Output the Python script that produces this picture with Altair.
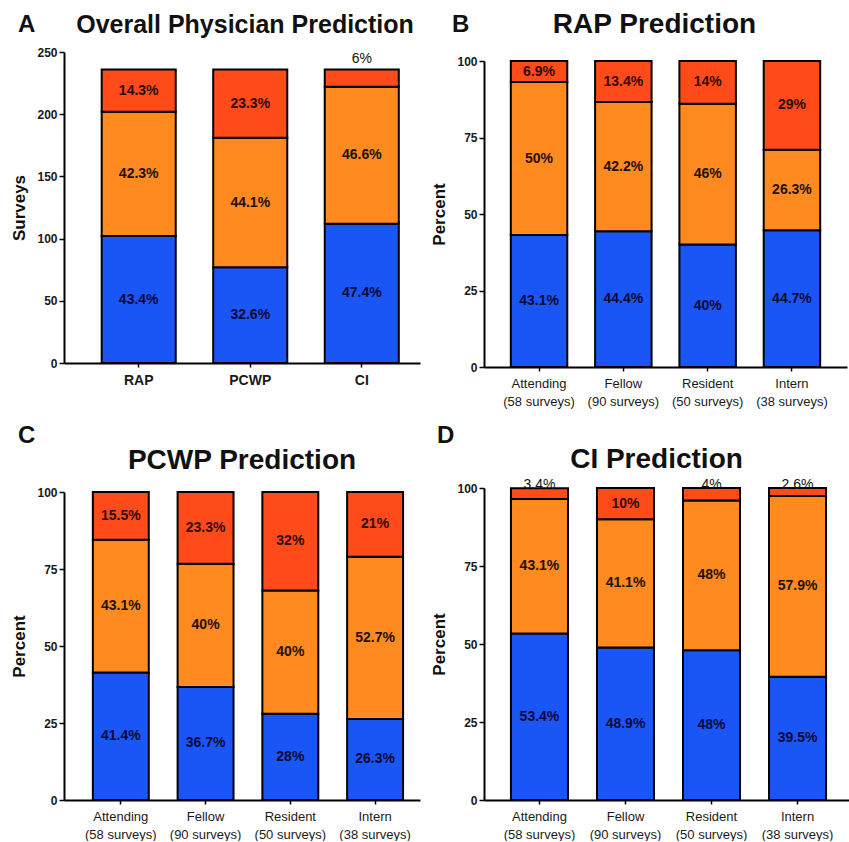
import altair as alt
import pandas as pd

FONT = "Liberation Sans"
BLUE, ORANGE, RED = "#1a55f5", "#ff8a1f", "#ff4b1a"

# ---------------- data ----------------
# Panel A: number of surveys per prediction type
a_cats = ["RAP", "PCWP", "CI"]
a_blue = [102, 77, 112]
a_orange = [100, 104, 110]
a_red = [34, 55, 14]
a_blue_pct = [43.4, 32.6, 47.4]
a_orange_pct = [42.3, 44.1, 46.6]
a_red_pct = [14.3, 23.3, 6]

# Panels B-D: percent by training level
levels = ["Attending", "Fellow", "Resident", "Intern"]
n_surveys = [58, 90, 50, 38]

rap_blue = [43.1, 44.4, 40, 44.7]
rap_orange = [50, 42.2, 46, 26.3]
rap_red = [6.9, 13.4, 14, 29]

pcwp_blue = [41.4, 36.7, 28, 26.3]
pcwp_orange = [43.1, 40, 40, 52.7]
pcwp_red = [15.5, 23.3, 32, 21]

ci_blue = [53.4, 48.9, 48, 39.5]
ci_orange = [43.1, 41.1, 48, 57.9]
ci_red = [3.4, 10, 4, 2.6]

SERIES = ["s1", "s2", "s3"]


def make_df(cats, axis_labels, values, pcts):
    rows = []
    for i, c in enumerate(cats):
        start = 0.0
        for s in range(3):
            v = values[s][i]
            end = start + v
            p = pcts[s][i]
            rows.append(dict(cat=c, axlab=axis_labels[i], series=SERIES[s],
                             start=start, end=end, mid=(start + end) / 2,
                             label=f"{p:g}%", outside=bool(s == 2 and p < 6.5)))
            start = end
    return pd.DataFrame(rows)


def panel(df, cats, title, title_size, title_dx, title_off, letter, letter_xy, ymax, ystep,
          yrange, width, height, xpad, ytitle, x_bold, out_dy):
    pin, pout, palign = xpad
    x_axis = alt.Axis(title=None, labelAngle=0, domainColor="black", domainWidth=2,
                      tickColor="black", tickWidth=1.5, tickSize=4,
                      labelFont=FONT, labelColor="#1a1a1a",
                      labelFontSize=14 if x_bold else 13,
                      labelFontWeight="bold" if x_bold else "normal",
                      labelExpr="split(datum.label, '|')", labelLineHeight=18,
                      labelPadding=6)
    x = alt.X("axlab:N", sort=[df[df.cat == c].axlab.iloc[0] for c in cats],
              scale=alt.Scale(paddingInner=pin, paddingOuter=pout, align=palign),
              axis=x_axis)
    y_axis = alt.Axis(values=list(range(0, ymax + 1, ystep)), grid=False,
                      domainColor="black", domainWidth=2, tickColor="black",
                      tickWidth=1.5, tickSize=5, labelFont=FONT, labelFontSize=12,
                      labelFontWeight="bold", labelColor="#1a1a1a", labelPadding=2,
                      title=ytitle, titleFont=FONT, titleFontSize=17,
                      titleFontWeight="bold", titleColor="#111", titlePadding=8)
    yscale = alt.Scale(domain=[0, ymax], range=yrange, nice=False, zero=True)

    bars = alt.Chart(df).mark_bar(stroke="black", strokeWidth=2).encode(
        x=x,
        y=alt.Y("start:Q", scale=yscale, axis=y_axis),
        y2="end:Q",
        color=alt.Color("series:N", scale=alt.Scale(domain=SERIES, range=[BLUE, ORANGE, RED]),
                        legend=None),
    )
    inside = alt.Chart(df).transform_filter("!datum.outside").mark_text(
        font=FONT, fontSize=14, fontWeight="bold", baseline="middle"
    ).encode(
        x=x, y=alt.Y("mid:Q"), text="label:N",
        color=alt.Color("series:N", scale=alt.Scale(domain=SERIES,
                        range=["#0a0a38", "#241000", "#300a00"]), legend=None),
    )
    outside = alt.Chart(df).transform_filter("datum.outside").mark_text(
        font=FONT, fontSize=14, fontWeight="normal", baseline="alphabetic", dy=out_dy,
        color="#111"
    ).encode(x=x, y=alt.Y("end:Q"), text="label:N")
    let = alt.Chart(pd.DataFrame({"t": [letter]})).mark_text(
        font=FONT, fontSize=24, fontWeight="bold", align="left", baseline="alphabetic",
        color="#111"
    ).encode(x=alt.value(letter_xy[0]), y=alt.value(letter_xy[1]), text="t:N")

    return alt.layer(bars, inside, outside, let).resolve_scale(color="independent").properties(
        width=width, height=height,
        title=alt.TitleParams(text=title, font=FONT, fontSize=title_size,
                              fontWeight="bold", color="#111", anchor="middle",
                              dx=title_dx, offset=title_off),
    )


def lvl_labels():
    return [f"{l}|({n} surveys)" for l, n in zip(levels, n_surveys)]


dfA = make_df(a_cats, a_cats, [a_blue, a_orange, a_red], [a_blue_pct, a_orange_pct, a_red_pct])
dfB = make_df(levels, lvl_labels(), [rap_blue, rap_orange, rap_red], [rap_blue, rap_orange, rap_red])
dfC = make_df(levels, lvl_labels(), [pcwp_blue, pcwp_orange, pcwp_red], [pcwp_blue, pcwp_orange, pcwp_red])
dfD = make_df(levels, lvl_labels(), [ci_blue, ci_orange, ci_red], [ci_blue, ci_orange, ci_red])

pA = panel(dfA, a_cats, "Overall Physician Prediction", 25, 3, -25, "A", (-46, -20), 250, 25,
           [311, 0], 356, 311, (0.336, 0.264, 0.64), "Surveys", True, -6)
pB = panel(dfB, levels, "RAP Prediction", 28, -11, -26, "B", (-32, -20), 100, 25,
           [315, 9], 363, 315, (0.33, 0.318, 0.5), "Percent", False, -6)
pC = panel(dfC, levels, "PCWP Prediction", 28, 0, -51, "C", (-46, -45), 100, 25,
           [312, 4], 356, 312, (0.34, 0.27, 0.63), "Percent", False, 1)
pD = panel(dfD, levels, "CI Prediction", 28, -10, -50, "D", (-47, -45), 100, 25,
           [312, 0], 365, 312, (0.337, 0.29, 0.54), "Percent", False, 1)

chart = alt.ConcatChart(
    concat=[pA, pB, pC, pD], columns=2,
    spacing=alt.RowColnumber(row=121, column=64), bounds="flush",
).properties(
    padding={"left": 10, "top": 11, "right": 0, "bottom": 0},
    background="white",
).configure_view(stroke=None)

chart.save("out.html", embed_options={"renderer": "svg", "actions": False})
